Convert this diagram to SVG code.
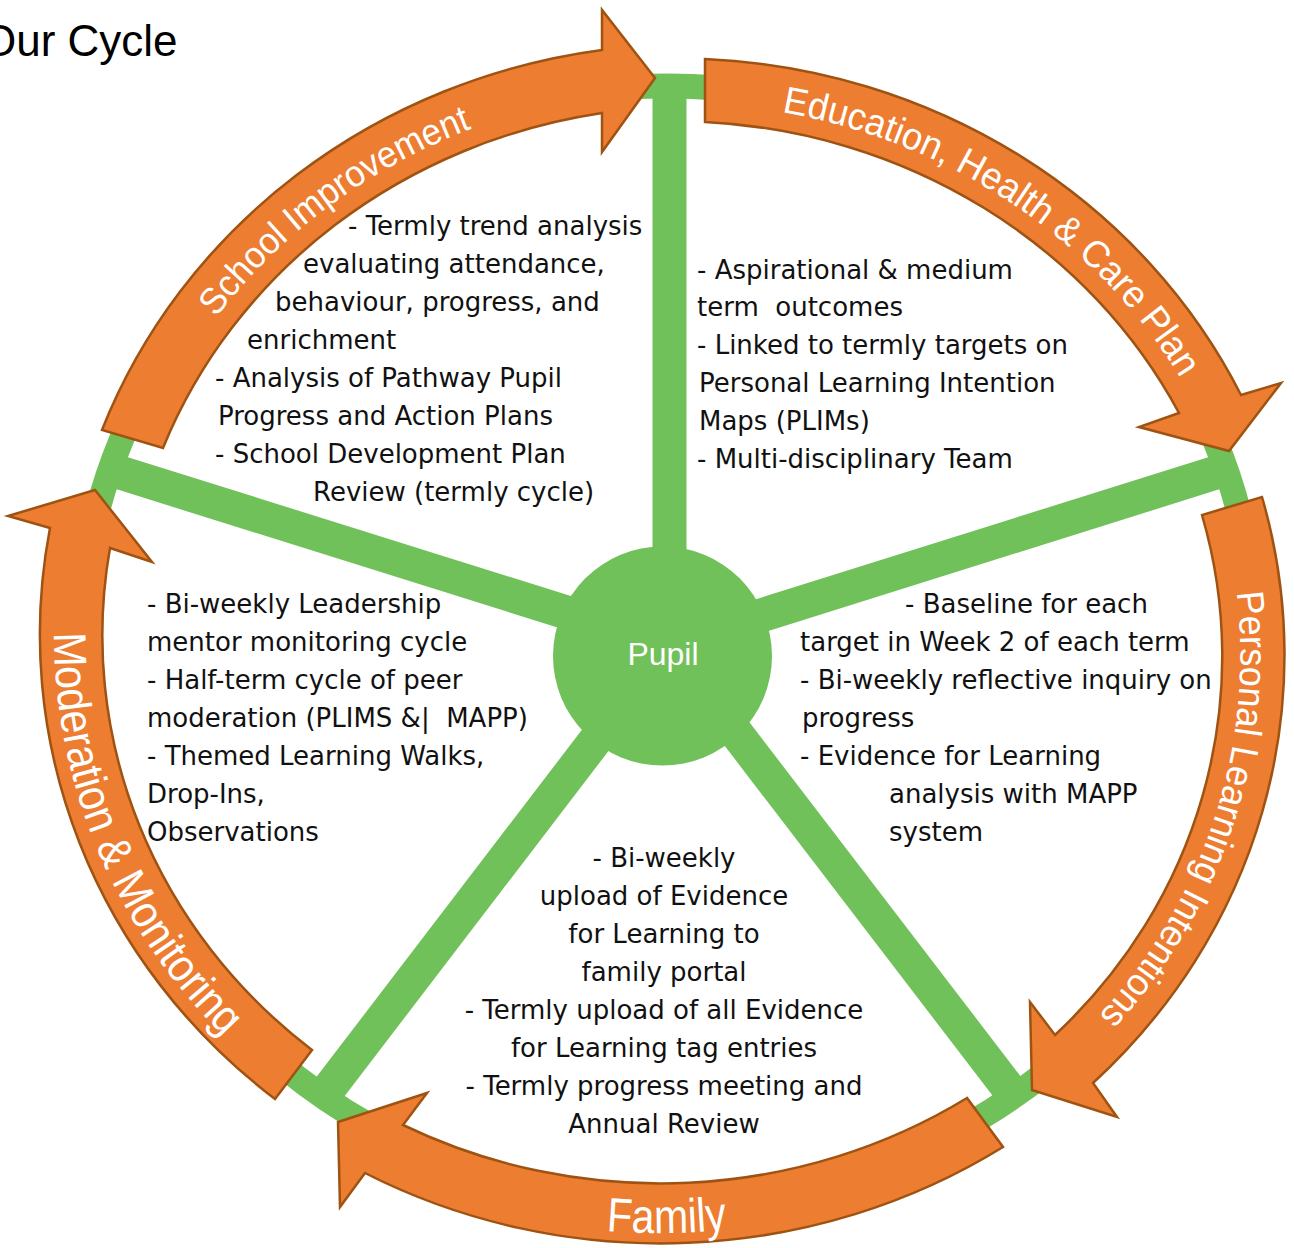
<svg xmlns="http://www.w3.org/2000/svg" width="1294" height="1248" viewBox="0 0 1294 1248">
<style>
.arrow{fill:#ED7D31;stroke:#9E5312;stroke-width:2.5;stroke-linejoin:miter}
.spoke{stroke:#71C15A;stroke-width:34;fill:none}
.ring{stroke:#71C15A;stroke-width:25;fill:none}
.body{font-family:"DejaVu Sans","Liberation Sans",sans-serif;font-size:26px;fill:#111}
.lbl{font-family:"Liberation Sans",Arial,sans-serif;fill:#fff}
.title{font-family:"Liberation Sans",Arial,sans-serif;font-size:44px;fill:#000}
</style>
<defs>
<path id="tp-si" d="M 144.1 443.8 A 583 551 0 0 1 603.4 94.9"/>
<path id="tp-ehcp" d="M 704.1 103.5 A 583 551 0 0 1 1198.2 409.4"/>
<path id="tp-pli" d="M 1219.4 509.2 A 583 551 0 0 1 1064.8 1049.8"/>
<path id="tp-fam" d="M 374.2 1166.4 A 616 584 0 0 0 996.2 1138.6"/>
<path id="tp-mod" d="M 63.3 534.8 A 613 581 0 0 0 282.3 1087.3"/>
</defs>
<rect width="1294" height="1248" fill="#fff"/>
<text class="title" x="-18" y="56">Our Cycle</text>

<g id="connectors">
<ellipse class="ring" cx="668" cy="644.5" rx="587.5" ry="558.5"/>
<line class="spoke" x1="669.5" y1="644.5" x2="669.5" y2="86"/>
<line class="spoke" x1="668.5" y1="644.5" x2="110" y2="469.4"/>
<line class="spoke" x1="668.5" y1="644.5" x2="1226" y2="469.4"/>
<line class="spoke" x1="668.5" y1="644.5" x2="1014" y2="1095.7"/>
<line class="spoke" x1="668.5" y1="644.5" x2="323" y2="1096.4"/>
</g>

<g id="node-pupil">
<circle cx="662.5" cy="656" r="109.5" fill="#71C15A"/>
<text x="663" y="665" text-anchor="middle" style="font-family:'Liberation Sans',Arial,sans-serif;font-size:32px;fill:#fff">Pupil</text>
</g>

<g id="node-school-improvement">
<path class="arrow" d="M 102 430 A 627 595 0 0 1 602 50 L 602 10 L 655 78 L 602 152 L 602 113 A 565 533 0 0 0 163 448 Z"/>
<text class="lbl" font-size="37"><textPath href="#tp-si" startOffset="50.8%" text-anchor="middle" textLength="322" lengthAdjust="spacingAndGlyphs">School Improvement</textPath></text>
<text class="body" x="348" y="235">- Termly trend analysis</text>
<text class="body" x="303" y="273">evaluating attendance,</text>
<text class="body" x="275" y="311">behaviour, progress, and</text>
<text class="body" x="247" y="349">enrichment</text>
<text class="body" x="215" y="387">- Analysis of Pathway Pupil</text>
<text class="body" x="218" y="425">Progress and Action Plans</text>
<text class="body" x="215" y="463">- School Development Plan</text>
<text class="body" x="313" y="501">Review (termly cycle)</text>
</g>

<g id="node-ehcp">
<path class="arrow" d="M 705 59 A 627 595 0 0 1 1241 395 L 1281 383 L 1229 451 L 1139 427 L 1179 413 A 565 533 0 0 0 705 122 Z"/>
<text class="lbl" font-size="38"><textPath href="#tp-ehcp" startOffset="53.5%" text-anchor="middle" textLength="494" lengthAdjust="spacingAndGlyphs">Education, Health &amp; Care Plan</textPath></text>
<text class="body" x="697" y="279">- Aspirational &amp; medium</text>
<text class="body" x="697" y="316" xml:space="preserve">term  outcomes</text>
<text class="body" x="697" y="354">- Linked to termly targets on</text>
<text class="body" x="699" y="392">Personal Learning Intention</text>
<text class="body" x="699" y="430">Maps (PLIMs)</text>
<text class="body" x="697" y="468">- Multi-disciplinary Team</text>
</g>

<g id="node-pli">
<path class="arrow" d="M 1262 497 A 627 595 0 0 1 1093 1083 L 1117 1117 L 1032 1090 L 1030 1002 L 1055 1035 A 565 533 0 0 0 1202 515 Z"/>
<text class="lbl" font-size="38"><textPath href="#tp-pli" startOffset="53.1%" text-anchor="middle" textLength="459" lengthAdjust="spacingAndGlyphs">Personal Learning Intentions</textPath></text>
<text class="body" x="905" y="613">- Baseline for each</text>
<text class="body" x="800" y="651">target in Week 2 of each term</text>
<text class="body" x="800" y="689">- Bi-weekly reflective inquiry on</text>
<text class="body" x="802" y="727">progress</text>
<text class="body" x="800" y="765">- Evidence for Learning</text>
<text class="body" x="889" y="803">analysis with MAPP</text>
<text class="body" x="889" y="841">system</text>
</g>

<g id="node-family">
<path class="arrow" d="M 1003 1147 A 627 595 0 0 1 365 1173 L 340 1207 L 338 1122 L 427 1093 L 403 1125 A 565 533 0 0 0 967 1098 Z"/>
<text class="lbl" font-size="48"><textPath href="#tp-fam" startOffset="46.6%" text-anchor="middle" textLength="121" lengthAdjust="spacingAndGlyphs">Family</textPath></text>
<text class="body" x="664" y="867" text-anchor="middle">- Bi-weekly</text>
<text class="body" x="664" y="905" text-anchor="middle">upload of Evidence</text>
<text class="body" x="664" y="943" text-anchor="middle">for Learning to</text>
<text class="body" x="664" y="981" text-anchor="middle">family portal</text>
<text class="body" x="664" y="1019" text-anchor="middle">- Termly upload of all Evidence</text>
<text class="body" x="664" y="1057" text-anchor="middle">for Learning tag entries</text>
<text class="body" x="664" y="1095" text-anchor="middle">- Termly progress meeting and</text>
<text class="body" x="664" y="1133" text-anchor="middle">Annual Review</text>
</g>

<g id="node-moderation">
<path class="arrow" d="M 275 1099 A 627 595 0 0 1 50 528 L 8 516 L 95 490 L 152 562 L 110 548 A 565 533 0 0 0 312 1050 Z"/>
<text class="lbl" font-size="46"><textPath href="#tp-mod" startOffset="51.7%" text-anchor="middle" textLength="450" lengthAdjust="spacingAndGlyphs">Moderation &amp; Monitoring</textPath></text>
<text class="body" x="147" y="613">- Bi-weekly Leadership</text>
<text class="body" x="147" y="651">mentor monitoring cycle</text>
<text class="body" x="147" y="689">- Half-term cycle of peer</text>
<text class="body" x="147" y="727" xml:space="preserve">moderation (PLIMS &amp;|  MAPP)</text>
<text class="body" x="147" y="765">- Themed Learning Walks,</text>
<text class="body" x="147" y="803">Drop-Ins,</text>
<text class="body" x="147" y="841">Observations</text>
</g>
</svg>
